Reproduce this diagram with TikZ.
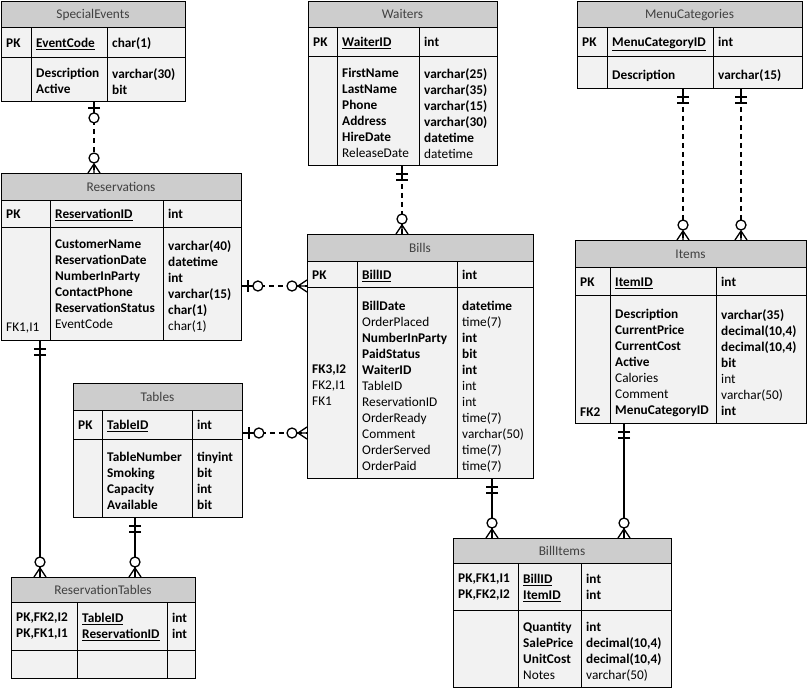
\documentclass[tikz,border=0pt]{standalone}
\usepackage{fontspec}
\setmainfont{Carlito}
\definecolor{headgray}{HTML}{CDCDCD}
\definecolor{bodygray}{HTML}{F2F2F2}
\definecolor{titlegray}{HTML}{404040}

\begin{document}
\begin{tikzpicture}[x=1pt,y=-1pt]
\tikzset{
  entity/.style={draw,line width=0.9pt,fill=bodygray,anchor=north west,inner sep=0pt},
  headbar/.style={draw,line width=0.9pt,fill=headgray},
  colrule/.style={line width=0.9pt},
  title/.style={anchor=base,inner sep=0pt,text=titlegray,font=\fontsize{13.3}{16}\selectfont},
  field/.style={anchor=north west,inner sep=0pt,align=left,font=\fontsize{13.3}{16}\selectfont,execute at begin node=\strut},
  ident/.style={line width=1.3pt},
  nonident/.style={line width=1.3pt,dash pattern=on 5pt off 4pt},
  zeromany/.pic={\draw[solid,line width=1.3pt] (0,-6) -- (9,0) -- (0,6) (0,0) -- (9,0);
                 \draw[solid,line width=1.3pt,fill=white] (15,0) circle (5);},
  zeroone/.pic={\draw[solid,line width=1.3pt] (0,0) -- (11,0) (6,-6) -- (6,6);
                \draw[solid,line width=1.3pt,fill=white] (16,0) circle (5);},
  onlyone/.pic={\draw[solid,line width=1.3pt] (0,0) -- (14,0) (8,-6) -- (8,6) (14,-6) -- (14,6);}
}
\useasboundingbox (0,0) rectangle (808,689);

% SpecialEvents
\node[entity,minimum width=184pt,minimum height=100pt] (e_specialevents) at (1,1) {};
\draw[headbar] (1,1) rectangle (185,27);
\draw[colrule] (1,57) -- (185,57) (31,27) -- (31,101) (107,27) -- (107,101);
\node[title] (se_title) at (93,18.5) {SpecialEvents};
\node[field] (se_pk) at (6,36) {\textbf{PK}};
\node[field] (se_key) at (36,36) {\textbf{\underline{EventCode}}};
\node[field] (se_keytype) at (112,36) {\textbf{char(1)}};
\node[field] (se_cols) at (36,68) {\textbf{Description}\\\textbf{Active}};
\node[field] (se_types) at (112,68) {\textbf{varchar(30)}\\\textbf{bit}};

% Waiters
\node[entity,minimum width=189pt,minimum height=164pt] (e_waiters) at (308,1) {};
\draw[headbar] (308,1) rectangle (497,27);
\draw[colrule] (308,56) -- (497,56) (337,27) -- (337,165) (419,27) -- (419,165);
\node[title] (w_title) at (402.5,18.5) {Waiters};
\node[field] (w_pk) at (313,35) {\textbf{PK}};
\node[field] (w_key) at (342,35) {\textbf{\underline{WaiterID}}};
\node[field] (w_keytype) at (424,35) {\textbf{int}};
\node[field] (w_cols) at (342,68) {\textbf{FirstName}\\\textbf{LastName}\\\textbf{Phone}\\\textbf{Address}\\\textbf{HireDate}\\ReleaseDate};
\node[field] (w_types) at (424,68) {\textbf{varchar(25)}\\\textbf{varchar(35)}\\\textbf{varchar(15)}\\\textbf{varchar(30)}\\\textbf{datetime}\\datetime};

% MenuCategories
\node[entity,minimum width=225pt,minimum height=87pt] (e_menucategories) at (577,1) {};
\draw[headbar] (577,1) rectangle (802,27);
\draw[colrule] (577,56) -- (802,56) (607,27) -- (607,88) (713,27) -- (713,88);
\node[title] (mc_title) at (689.5,18.5) {MenuCategories};
\node[field] (mc_pk) at (582,35) {\textbf{PK}};
\node[field] (mc_key) at (612,35) {\textbf{\underline{MenuCategoryID}}};
\node[field] (mc_keytype) at (718,35) {\textbf{int}};
\node[field] (mc_cols) at (612,68) {\textbf{Description}};
\node[field] (mc_types) at (718,68) {\textbf{varchar(15)}};

% Reservations
\node[entity,minimum width=240pt,minimum height=167pt] (e_reservations) at (1,173) {};
\draw[headbar] (1,173) rectangle (241,200);
\draw[colrule] (1,227) -- (241,227) (50,200) -- (50,340) (163,200) -- (163,340);
\node[title] (r_title) at (121,191.5) {Reservations};
\node[field] (r_pk) at (6,207) {\textbf{PK}};
\node[field] (r_key) at (55,207) {\textbf{\underline{ReservationID}}};
\node[field] (r_keytype) at (168,207) {\textbf{int}};
\node[field] (r_fk) at (6,320) {FK1,I1};
\node[field] (r_cols) at (55,240) {\textbf{CustomerName}\\\textbf{ReservationDate}\\\textbf{NumberInParty}\\\textbf{ContactPhone}\\\textbf{ReservationStatus}\\EventCode};
\node[field] (r_types) at (168,240) {\textbf{varchar(40)}\\\textbf{datetime}\\\textbf{int}\\\textbf{varchar(15)}\\\textbf{char(1)}\\char(1)};

% Bills
\node[entity,minimum width=226pt,minimum height=244pt] (e_bills) at (307,234) {};
\draw[headbar] (307,234) rectangle (533,261);
\draw[colrule] (307,287) -- (533,287) (357,261) -- (357,478) (457,261) -- (457,478);
\node[title] (b_title) at (420,252.5) {Bills};
\node[field] (b_pk) at (312,268) {\textbf{PK}};
\node[field] (b_key) at (362,268) {\textbf{\underline{BillID}}};
\node[field] (b_keytype) at (462,268) {\textbf{int}};
\node[field] (b_fk) at (312,365) {\textbf{FK3,I2}\\FK2,I1\\FK1};
\node[field] (b_cols) at (362,301) {\textbf{BillDate}\\OrderPlaced\\\textbf{NumberInParty}\\\textbf{PaidStatus}\\\textbf{WaiterID}\\TableID\\ReservationID\\OrderReady\\Comment\\OrderServed\\OrderPaid};
\node[field] (b_types) at (462,301) {\textbf{datetime}\\time(7)\\\textbf{int}\\\textbf{bit}\\\textbf{int}\\int\\int\\time(7)\\varchar(50)\\time(7)\\time(7)};

% Items
\node[entity,minimum width=231pt,minimum height=183pt] (e_items) at (575,240) {};
\draw[headbar] (575,240) rectangle (806,267);
\draw[colrule] (575,295) -- (806,295) (610,267) -- (610,423) (716,267) -- (716,423);
\node[title] (i_title) at (690.5,258.5) {Items};
\node[field] (i_pk) at (580,275) {\textbf{PK}};
\node[field] (i_key) at (615,275) {\textbf{\underline{ItemID}}};
\node[field] (i_keytype) at (721,275) {\textbf{int}};
\node[field] (i_fk) at (580,405) {\textbf{FK2}};
\node[field] (i_cols) at (615,309) {\textbf{Description}\\\textbf{CurrentPrice}\\\textbf{CurrentCost}\\\textbf{Active}\\Calories\\Comment\\\textbf{MenuCategoryID}};
\node[field] (i_types) at (721,309) {\textbf{varchar(35)}\\\textbf{decimal(10,4)}\\\textbf{decimal(10,4)}\\\textbf{bit}\\int\\varchar(50)\\\textbf{int}};

% Tables
\node[entity,minimum width=169pt,minimum height=134pt] (e_tables) at (73,383) {};
\draw[headbar] (73,383) rectangle (242,410);
\draw[colrule] (73,439) -- (242,439) (102,410) -- (102,517) (192,410) -- (192,517);
\node[title] (t_title) at (157.5,401.5) {Tables};
\node[field] (t_pk) at (78,418) {\textbf{PK}};
\node[field] (t_key) at (107,418) {\textbf{\underline{TableID}}};
\node[field] (t_keytype) at (197,418) {\textbf{int}};
\node[field] (t_cols) at (107,452) {\textbf{TableNumber}\\\textbf{Smoking}\\\textbf{Capacity}\\\textbf{Available}};
\node[field] (t_types) at (197,452) {\textbf{tinyint}\\\textbf{bit}\\\textbf{int}\\\textbf{bit}};

% ReservationTables
\node[entity,minimum width=184pt,minimum height=101pt] (e_restables) at (11,577) {};
\draw[headbar] (11,577) rectangle (195,602);
\draw[colrule] (11,650) -- (195,650) (77,602) -- (77,678) (167,602) -- (167,678);
\node[title] (rt_title) at (103,594.5) {ReservationTables};
\node[field] (rt_pk) at (16,613) {\textbf{PK,FK2,I2}\\\textbf{PK,FK1,I1}};
\node[field] (rt_keys) at (82,613) {\textbf{\underline{TableID}}\\\textbf{\underline{ReservationID}}};
\node[field] (rt_keytypes) at (172,613) {\textbf{int}\\\textbf{int}};

% BillItems
\node[entity,minimum width=218pt,minimum height=149pt] (e_billitems) at (453,538) {};
\draw[headbar] (453,538) rectangle (671,563);
\draw[colrule] (453,610) -- (671,610) (518,563) -- (518,687) (581,563) -- (581,687);
\node[title] (bi_title) at (562,555.5) {BillItems};
\node[field] (bi_pk) at (458,574) {\textbf{PK,FK1,I1}\\\textbf{PK,FK2,I2}};
\node[field] (bi_keys) at (523,574) {\textbf{\underline{BillID}}\\\textbf{\underline{ItemID}}};
\node[field] (bi_keytypes) at (586,574) {\textbf{int}\\\textbf{int}};
\node[field] (bi_cols) at (523,622) {\textbf{Quantity}\\\textbf{SalePrice}\\\textbf{UnitCost}\\Notes};
\node[field] (bi_types) at (586,622) {\textbf{int}\\\textbf{decimal(10,4)}\\\textbf{decimal(10,4)}\\varchar(50)};

% relationships
\draw[nonident] (e_specialevents.south -| 94,0) -- (e_reservations.north -| 94,0);
\pic[rotate=-90] at (e_specialevents.south -| 94,0) {zeroone};
\pic[rotate=90] at (e_reservations.north -| 94,0) {zeromany};

\draw[nonident] (e_waiters.south -| 402,0) -- (e_bills.north -| 402,0);
\pic[rotate=-90] at (e_waiters.south -| 402,0) {onlyone};
\pic[rotate=90] at (e_bills.north -| 402,0) {zeromany};

\draw[nonident] (e_menucategories.south -| 683,0) -- (e_items.north -| 683,0);
\pic[rotate=-90] at (e_menucategories.south -| 683,0) {onlyone};
\pic[rotate=90] at (e_items.north -| 683,0) {zeromany};

\draw[nonident] (e_menucategories.south -| 741,0) -- (e_items.north -| 741,0);
\pic[rotate=-90] at (e_menucategories.south -| 741,0) {onlyone};
\pic[rotate=90] at (e_items.north -| 741,0) {zeromany};

\draw[nonident] (e_reservations.east |- 0,286) -- (e_bills.west |- 0,286);
\pic at (e_reservations.east |- 0,286) {zeroone};
\pic[rotate=180] at (e_bills.west |- 0,286) {zeromany};

\draw[nonident] (e_tables.east |- 0,433) -- (e_bills.west |- 0,433);
\pic at (e_tables.east |- 0,433) {zeroone};
\pic[rotate=180] at (e_bills.west |- 0,433) {zeromany};

\draw[ident] (e_reservations.south -| 40,0) -- (e_restables.north -| 40,0);
\pic[rotate=-90] at (e_reservations.south -| 40,0) {onlyone};
\pic[rotate=90] at (e_restables.north -| 40,0) {zeromany};

\draw[ident] (e_tables.south -| 135,0) -- (e_restables.north -| 135,0);
\pic[rotate=-90] at (e_tables.south -| 135,0) {onlyone};
\pic[rotate=90] at (e_restables.north -| 135,0) {zeromany};

\draw[ident] (e_bills.south -| 492,0) -- (e_billitems.north -| 492,0);
\pic[rotate=-90] at (e_bills.south -| 492,0) {onlyone};
\pic[rotate=90] at (e_billitems.north -| 492,0) {zeromany};

\draw[ident] (e_items.south -| 624,0) -- (e_billitems.north -| 624,0);
\pic[rotate=-90] at (e_items.south -| 624,0) {onlyone};
\pic[rotate=90] at (e_billitems.north -| 624,0) {zeromany};
\end{tikzpicture}
\end{document}
